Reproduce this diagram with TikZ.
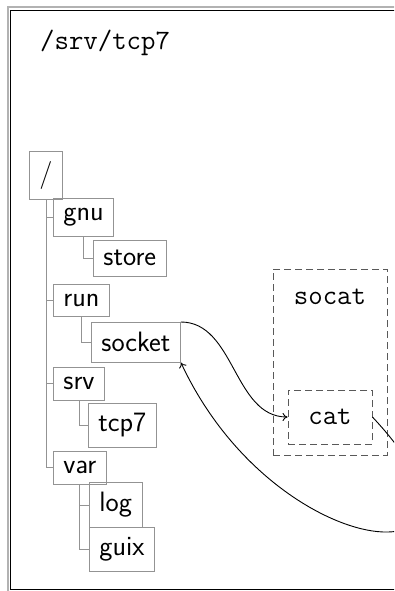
\documentclass[tikz,border=0pt]{standalone}
\usetikzlibrary{arrows.meta}
\begin{document}
\begin{tikzpicture}[x=1pt,y=-1pt,
  dirbox/.style={draw=gray!85, line width=0.9pt, inner sep=10pt, anchor=north west,
    font=\fontsize{28}{34}\selectfont\sffamily},
  branch/.style={draw=gray!85, line width=0.9pt},
  procbox/.style={draw=black!65, line width=0.9pt, dash pattern=on 7pt off 4pt},
  mono/.style={font=\fontsize{28}{34}\selectfont\ttfamily, inner sep=0pt},
  link/.style={line width=0.9pt, -{To[length=5pt,width=8pt]}}]
\useasboundingbox (0,0) rectangle (394,591);
\clip (0,0) rectangle (394,591);

% double frame
\draw[gray!60, line width=2pt] (7.5,7.5) rectangle (420,620);
\draw[black, line width=1.2pt] (10.5,10.5) rectangle (420,589.5);

% title
\node[mono, anchor=base west] (title) at (40,49.5) {/srv/tcp7};

% directory tree
\node[dirbox] (root)   at (29,151) {/};
\node[dirbox] (gnu)    at (53,198) {gnu};
\node[dirbox] (store)  at (93,240) {store};
\node[dirbox] (run)    at (53,284) {run};
\node[dirbox] (socket) at (91,322) {socket};
\node[dirbox] (srv)    at (53,367) {srv};
\node[dirbox] (tcp)    at (88,403) {tcp7};
\node[dirbox] (var)    at (53,451) {var};
\node[dirbox] (log)    at (89,482) {log};
\node[dirbox] (guix)   at (89,527) {guix};

\foreach \p/\c in {root/gnu, root/run, root/srv, root/var,
                   gnu/store, run/socket, srv/tcp, var/log, var/guix}
  \draw[branch] (\p.south) |- (\c.west);

% processes
\node[procbox, minimum width=114pt, minimum height=186pt] (socat) at (330,362) {};
\node[mono, anchor=base] (socatlabel) at (330,304) {socat};
\node[procbox, mono, minimum width=84pt, minimum height=54pt] (cat) at (330,417) {cat};

% data flow
\draw[link] (socket.north east) .. controls +(54,0) and +(-54,0) .. (cat.west);
\draw[link] (cat.east) .. controls +(157,168) and +(97,208) .. (socket.south east);
\end{tikzpicture}
\end{document}
